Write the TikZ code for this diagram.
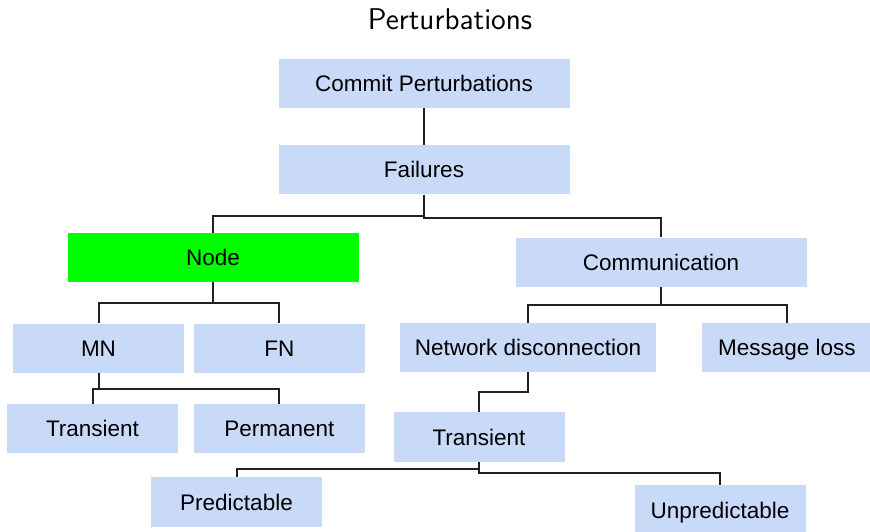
\documentclass[tikz,border=0pt]{standalone}
\usepackage{fontspec}
\newfontfamily\boxfont{Liberation Sans}
\usetikzlibrary{positioning}
\definecolor{cBox}{HTML}{C9DAF8}
\definecolor{cHot}{HTML}{00FF00}
\definecolor{cLine}{HTML}{222222}
\tikzset{
  cat/.style  = {rectangle, fill=#1, draw=none, inner sep=0pt, text=black,
                 minimum width=85.5pt, minimum height=24.5pt,
                 text height=8.1pt, text depth=0pt,
                 font=\boxfont\fontsize{11.25}{13}\selectfont},
  cat/.default = cBox,
  wide/.style = {cat, minimum width=145.5pt},
  hot/.style  = {wide, fill=cHot},
  br/.style   = {draw=cLine, line width=1pt},
  ttl/.style  = {font=\sffamily\fontsize{15}{18}\selectfont, anchor=base},
}
\begin{document}
\begin{tikzpicture}[x=0.5pt, y=-0.5pt]
  \useasboundingbox (0,0) rectangle (870,531);
  \node[ttl] (t) at (450,29) {Perturbations};

  \node[wide] (cp) at (424,83) {Commit Perturbations};
  \node[wide, below=18.5pt of cp] (fa) {Failures};
  \node[hot] (nd) at (213,257.5) {Node};
  \node[wide] (co) at (661,262) {Communication};
  \node[cat] (mn) at (98.5,348) {MN};
  \node[cat, right=4.5pt of mn] (fn) {FN};
  \node[cat, minimum width=128pt] (nw) at (528,347.5) {Network disconnection};
  \node[cat, minimum width=85pt, right=22.5pt of nw] (ml) {Message loss};
  \node[cat] (t1) at (92.5,428.5) {Transient};
  \node[cat, right=7.5pt of t1] (pm) {Permanent};
  \node[cat, minimum height=25pt] (t2) at (479,437) {Transient};
  \node[cat, minimum height=25pt] (pr) at (236.5,502) {Predictable};
  \node[cat, minimum height=25pt] (up) at (720,510) {Unpredictable};

  \draw[br] (cp) -- (fa);
  \draw[br] (fa.south) -- ++(0,-10.5pt) -| (nd.north);
  \draw[br] (fa.south) -- ++(0,-11.5pt) -| (co.north);
  \draw[br] (nd.south) -- ++(0,-10.5pt) -| (mn.north);
  \draw[br] (nd.south) -- ++(0,-10.5pt) -| (fn.north);
  \draw[br] (co.south) -- ++(0,-9pt) -| (nw.north);
  \draw[br] (co.south) -- ++(0,-9pt) -| (ml.north);
  \draw[br] (mn.south) -- ++(0,-8pt) -| (t1.north);
  \draw[br] (mn.south) -- ++(0,-8pt) -| (pm.north);
  \draw[br] (nw.south) -- ++(0,-10pt) -| (t2.north);
  \draw[br] (t2.south) -- ++(0,-3.5pt) -| (pr.north);
  \draw[br] (t2.south) -- ++(0,-5.5pt) -| (up.north);
\end{tikzpicture}
\end{document}
